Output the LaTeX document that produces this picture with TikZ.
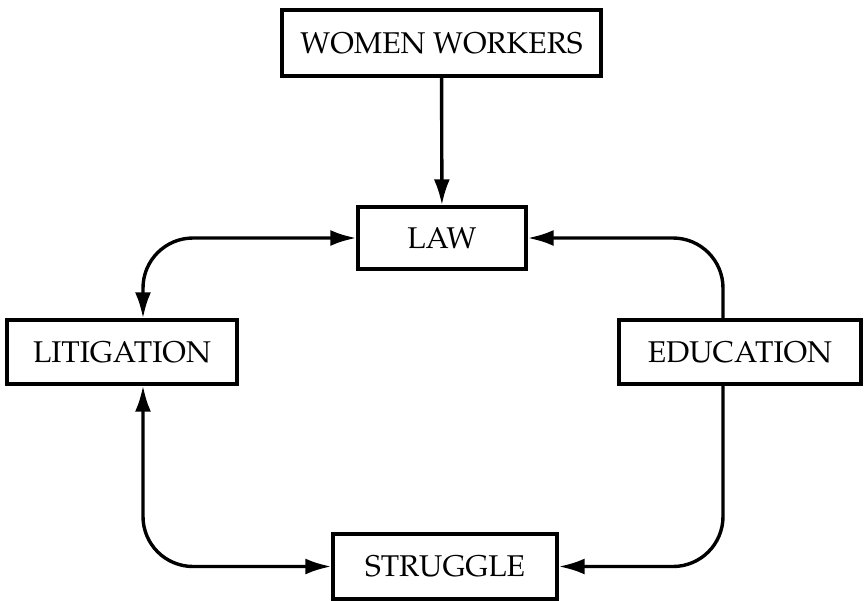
\documentclass[tikz,border=0pt]{standalone}
\usepackage[T1]{fontenc}
\usepackage{mathpazo}
\usetikzlibrary{arrows.meta}
\tikzstyle{box}=[draw, line width = 1.7pt, inner sep = 0, font = \fontsize{15}{18}\selectfont]
\tikzstyle{link}=[line width = 1.7pt, rounded corners = 25pt]
\begin{document}
\begin{tikzpicture}[x = .5pt, y = -.5pt, >={Latex[length = 13pt, width = 8pt]}]
\useasboundingbox (0, 0) rectangle (864, 601);
\node (women) at (441.5, 43) [box, minimum width = 159.5pt, minimum height = 33pt] {WOMEN WORKERS};
\node (law) at (442, 238) [box, minimum width = 84pt, minimum height = 31pt] {LAW};
\node (litig) at (122, 352) [box, minimum width = 115pt, minimum height = 32pt] {LITIGATION};
\node (educ) at (740, 352) [box, minimum width = 121pt, minimum height = 32pt] {EDUCATION};
\node (strug) at (445, 566.5) [box, minimum width = 112pt, minimum height = 32.5pt] {STRUGGLE};
%%%%%%%%%%%%%%%%%%%%%%%
\draw [link, ->] (women) to (law);
\draw [link, <->] (law.west) -| ([xshift = 10.5pt]litig.north);
\draw [link, ->] ([xshift = -8.5pt]educ.north) |- (law.east);
\draw [link, ->] ([xshift = -8.5pt]educ.south) |- (strug.east);
\draw [link, <->] ([xshift = 10.5pt]litig.south) |- (strug.west);
\end{tikzpicture}
\end{document}
